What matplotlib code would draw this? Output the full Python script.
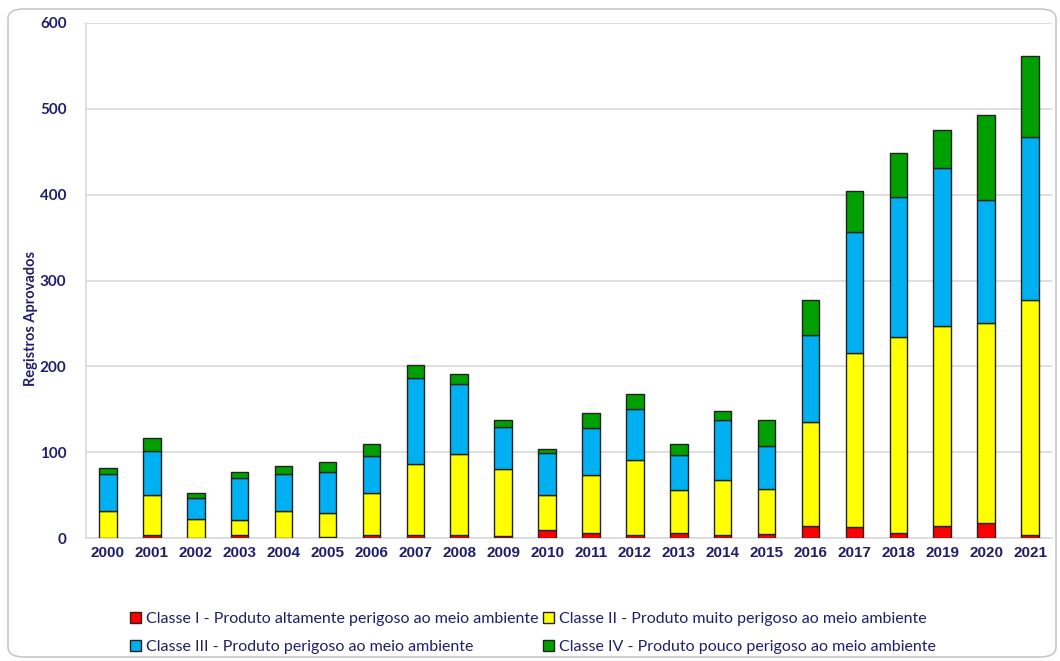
import numpy as np
import matplotlib
matplotlib.use("Agg")
from matplotlib import pyplot as plt
from matplotlib.patches import FancyBboxPatch

years = [str(y) for y in range(2000, 2022)]
classe_1 = [0, 3, 0, 3, 0, 1, 3, 3, 4, 2, 9, 6, 3, 6, 3, 5, 14, 13, 6, 14, 17, 4]
classe_2 = [32, 47, 22, 18, 32, 28, 49, 83, 94, 78, 41, 67, 88, 50, 65, 52, 121, 202, 228, 233, 234, 273]
classe_3 = [42, 51, 25, 49, 42, 48, 44, 100, 81, 49, 49, 55, 59, 41, 69, 50, 102, 141, 163, 184, 143, 190]
classe_4 = [8, 15, 6, 7, 10, 12, 13, 16, 12, 8, 5, 18, 18, 13, 11, 31, 40, 48, 52, 44, 99, 95]

labels = ["Classe I - Produto altamente perigoso ao meio ambiente",
          "Classe II - Produto muito perigoso ao meio ambiente",
          "Classe III - Produto perigoso ao meio ambiente",
          "Classe IV - Produto pouco perigoso ao meio ambiente"]
colors = ["#FF0000", "#FFFF00", "#00B0F0", "#00A000"]
navy = "#1F1F6B"

plt.rcParams['font.family'] = ['Lato', 'DejaVu Sans']

fig = plt.figure(figsize=(10.6, 6.61), dpi=100)
frame = FancyBboxPatch((8 / 1060, 4 / 661), 1048 / 1060, 648 / 661,
                       boxstyle="round,pad=0,rounding_size=0.015",
                       transform=fig.transFigure, facecolor="white",
                       edgecolor="#C8C8C8", linewidth=1.2, zorder=-5)
fig.patches.append(frame)
ax = fig.add_axes([86 / 1060, 1 - 538 / 661, 966 / 1060, 515 / 661])
ax.set_facecolor("none")

x = np.arange(len(years))
bottom = np.zeros(len(years))
series = [classe_1, classe_2, classe_3, classe_4]
handles = []
for vals, c, lab in zip(series, colors, labels):
    b = ax.bar(x, vals, 0.4, bottom=bottom, color=c, edgecolor="#222222",
               linewidth=1.0, label=lab, zorder=3)
    handles.append(b)
    bottom += np.array(vals)

ax.set_xlim(-0.5, len(years) - 0.5)
ax.set_ylim(0, 600)
ax.set_yticks(range(0, 601, 100))
ax.set_xticks(x)
ax.set_xticklabels(years, fontsize=11, fontweight="bold", color=navy,
                   family=["Liberation Sans", "DejaVu Sans"])
for t in ax.get_yticklabels():
    t.set_fontsize(11)
    t.set_fontweight("bold")
    t.set_color(navy)
ax.tick_params(axis="both", length=0)
ax.tick_params(axis="y", pad=14)
ax.tick_params(axis="x", pad=6)
ax.grid(axis="y", color="#D9D9D9", linewidth=1.2, zorder=0)
for s in ["top", "right"]:
    ax.spines[s].set_visible(False)
ax.spines["left"].set_color("#D9D9D9")
ax.spines["bottom"].set_color("#D9D9D9")
ax.spines["left"].set_linewidth(1.2)
ax.spines["bottom"].set_linewidth(1.2)

fig.text(31 / 1060, 1 - 318 / 661, "Registros Aprovados", rotation=90,
         ha="center", va="center", fontsize=10.5, fontweight="bold", color=navy)

# legend fills column-wise, so reorder to get I, II on top row
order = [0, 2, 1, 3]
leg = fig.legend(handles=[handles[i] for i in order],
                 labels=[labels[i] for i in order], ncol=2, loc="center",
                 bbox_to_anchor=(533 / 1060, 1 - 633 / 661), frameon=False,
                 fontsize=11.5, handlelength=0.7, handleheight=0.7,
                 handletextpad=0.3, columnspacing=0.3, labelspacing=0.9)
for t in leg.get_texts():
    t.set_color(navy)

fig.savefig("out.png", dpi=100)
